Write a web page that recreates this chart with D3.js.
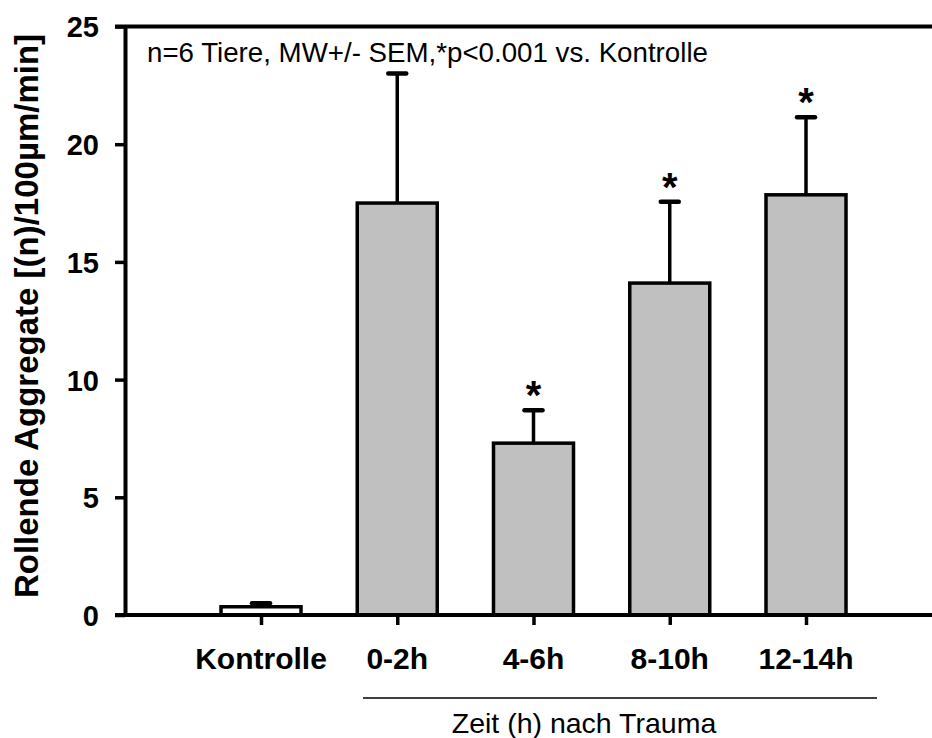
<!DOCTYPE html>
<html>
<head>
<meta charset="utf-8">
<script src="https://cdn.jsdelivr.net/npm/d3@7"></script>
<style>
  html, body { margin: 0; padding: 0; background: #fff; }
  svg { display: block; font-family: "Liberation Sans", Arial, Helvetica, sans-serif; }
</style>
</head>
<body>
<svg id="chart" width="932" height="738"></svg>
<script>
const categories = ["Kontrolle", "0-2h", "4-6h", "8-10h", "12-14h"];
const means = [0.35, 17.5, 7.3, 14.1, 17.85];
const sems = [0.15, 5.5, 1.4, 3.45, 3.3];
const significant = [false, false, true, true, true];
const yTicks = [0, 5, 10, 15, 20, 25];
const yTitle = "Rollende Aggregate [(n)/100µm/min]";
const xGroupTitle = "Zeit (h) nach Trauma";
const note = "n=6 Tiere, MW+/- SEM,*p<0.001 vs. Kontrolle";

const svg = d3.select("#chart");
const axisX0 = 125, axisX1 = 932;

const x = d3.scalePoint().domain(categories).range([261, 806]);
const y = d3.scaleLinear().domain([0, 25]).range([615, 26.5]);
const barW = 80;

// bars
svg.append("g").selectAll("rect").data(categories).join("rect")
  .attr("x", d => x(d) - barW / 2)
  .attr("y", (d, i) => y(means[i]))
  .attr("width", barW)
  .attr("height", (d, i) => y(0) - y(means[i]))
  .attr("fill", (d, i) => i === 0 ? "#ffffff" : "#c0c0c0")
  .attr("stroke", "#000")
  .attr("stroke-width", 3.5);

// error bars
const eg = svg.append("g").attr("stroke", "#000");
eg.selectAll("line.v").data(categories).join("line").attr("class", "v")
  .attr("x1", d => x(d)).attr("x2", d => x(d))
  .attr("y1", (d, i) => y(means[i]))
  .attr("y2", (d, i) => y(means[i] + sems[i]))
  .attr("stroke-width", 3.5);
eg.selectAll("line.c").data(categories).join("line").attr("class", "c")
  .attr("x1", d => x(d) - 9).attr("x2", d => x(d) + 9)
  .attr("y1", (d, i) => y(means[i] + sems[i]))
  .attr("y2", (d, i) => y(means[i] + sems[i]))
  .attr("stroke-width", 4.5)
  .attr("stroke-linecap", "round");

// asterisks
svg.append("g").selectAll("text").data(categories.filter((d, i) => significant[i])).join("text")
  .attr("x", d => x(d))
  .attr("y", d => { const i = categories.indexOf(d); return y(means[i] + sems[i]) - 1; })
  .attr("text-anchor", "middle")
  .attr("font-size", 40).attr("font-weight", "bold")
  .text("*");

// y axis
const yAxis = d3.axisLeft(y).tickValues(yTicks).tickSize(10).tickSizeOuter(0).tickPadding(16);
const gy = svg.append("g").attr("transform", `translate(${axisX0},0)`).call(yAxis);
gy.select(".domain").attr("stroke-width", 4);
gy.selectAll(".tick line").attr("stroke-width", 3.5);
gy.selectAll(".tick text").attr("font-size", 29).attr("font-weight", "bold")
  .attr("font-family", "Liberation Sans, Arial, sans-serif").attr("fill", "#000").attr("dy", "0.36em");

// x axis
const xAxis = d3.axisBottom(x).tickSize(10).tickSizeOuter(0).tickFormat(() => "");
const gx = svg.append("g").attr("transform", `translate(0,${y(0)})`).call(xAxis);
gx.select(".domain").remove();
gx.selectAll(".tick line").attr("stroke-width", 3.5);
svg.append("line").attr("x1", axisX0 - 10).attr("x2", axisX1).attr("y1", y(0)).attr("y2", y(0))
  .attr("stroke", "#000").attr("stroke-width", 4);
// top line
svg.append("line").attr("x1", axisX0 - 10).attr("x2", axisX1).attr("y1", y(25)).attr("y2", y(25))
  .attr("stroke", "#000").attr("stroke-width", 4);

// x labels
svg.append("g").selectAll("text").data(categories).join("text")
  .attr("x", d => x(d)).attr("y", 669)
  .attr("text-anchor", "middle")
  .attr("font-size", 30).attr("font-weight", "bold")
  .text(d => d);

// group line + title
svg.append("line").attr("x1", 363).attr("x2", 877).attr("y1", 698).attr("y2", 698)
  .attr("stroke", "#000").attr("stroke-width", 1.5);
svg.append("text").attr("x", 584).attr("y", 733).attr("text-anchor", "middle")
  .attr("font-size", 28.5).text(xGroupTitle);

// y title
svg.append("text")
  .attr("transform", "translate(38,316) rotate(-90)")
  .attr("text-anchor", "middle")
  .attr("font-size", 33).attr("font-weight", "bold")
  .text(yTitle);

// note
svg.append("text").attr("x", 147).attr("y", 62).attr("font-size", 27.7).text(note);
</script>
</body>
</html>
